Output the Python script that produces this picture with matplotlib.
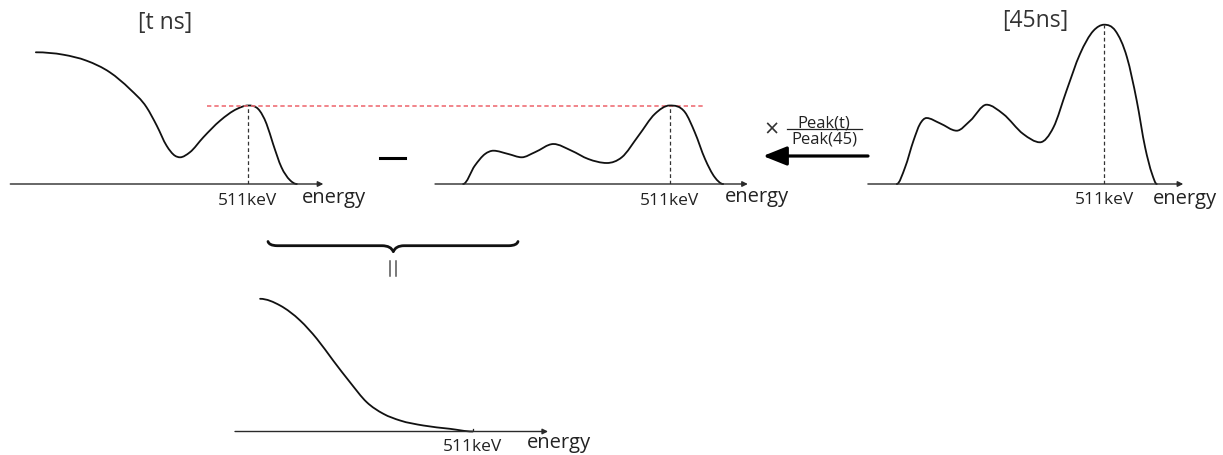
import numpy as np
import matplotlib
matplotlib.use("Agg")
import matplotlib.pyplot as plt
from matplotlib.path import Path
from matplotlib.patches import PathPatch, FancyArrowPatch
from matplotlib.lines import Line2D

plt.rcParams['font.family'] = ['Open Sans', 'DejaVu Sans']

# ---------------- data (energy in keV, counts in arbitrary units) ----------------
peak_energy = 511
# spectrum at t ns
t_energy = [55, 114, 164, 214, 257, 293, 315, 336, 354, 365, 386, 415, 451, 487, 511, 533, 551, 565, 583, 601, 616]
t_counts = [131.7, 129.3, 123.3, 111.7, 95, 76.7, 58.3, 38.3, 28.3, 26.7, 31.7, 46.7, 63.3, 75, 78.5, 75, 60, 40, 16.7, 4, 0]
# 45 ns spectrum scaled by Peak(t)/Peak(45)
s_energy = [67, 92, 114, 132, 164, 193, 221, 261, 300, 336, 376, 408, 444, 479, 511, 544, 565, 587, 608, 626]
s_counts = [0, 18.3, 30, 33.3, 30, 26.7, 31.7, 40, 33.3, 25, 21, 26.7, 48.3, 70, 78.5, 71.7, 51.7, 25, 6.7, 0]
# spectrum at 45 ns
r_energy = [65, 83, 101, 115, 129, 158, 194, 223, 258, 294, 337, 373, 402, 430, 459, 488, 511, 535, 560, 581, 599, 614, 624]
r_counts = [0, 16.7, 43.3, 60, 66, 60.7, 53.3, 63.3, 79.3, 70, 50, 41.7, 56.7, 93.3, 130, 153.3, 159.3, 153.3, 126.7, 83.3, 36.7, 10, 0]
# difference spectrum
d_energy = [54, 97, 140, 176, 211, 247, 283, 319, 355, 405, 462, 511]
d_counts = [132.7, 126, 111, 92.7, 71, 49.4, 29.4, 17.7, 11, 6, 2.7, 0]

peak_label = "511keV"
axis_label = "energy"
title_t = "[t ns]"
title_45 = "[45ns]"
ratio_num = "Peak(t)"
ratio_den = "Peak(45)"

# ---------------- layout ----------------
W, H = 1223, 456
fig = plt.figure(figsize=(W / 100, H / 100), dpi=100)
KEV_PER_PX = 2.15
TEXT = "#222222"


def fpx(x, y):
    return x / W, (H - y) / H


def add_panel(left_px, base_px, height_px, e0, e1):
    width_px = 700 / KEV_PER_PX
    ax = fig.add_axes([left_px / W, (H - base_px) / H, width_px / W, height_px / H])
    ax.set_xlim(0, 700)
    ax.set_ylim(0, height_px)
    ax.axis('off')
    ax.annotate("", xy=(e1, 0), xytext=(e0, 0), xycoords='data',
                arrowprops=dict(arrowstyle='-|>', lw=1.0, color='#2a2a2a',
                                mutation_scale=8, shrinkA=0, shrinkB=0),
                annotation_clip=False)
    return ax


def smooth(ax, xs, ys, **kw):
    """Smooth cubic through the read points (flat at extrema), drawn as Bezier segments."""
    x = np.asarray(xs, float)
    y = np.asarray(ys, float)
    h = np.diff(x)
    d = np.diff(y) / h
    n = len(x)
    m = np.zeros(n)
    for k in range(1, n - 1):
        if d[k - 1] * d[k] > 0:
            mk = (h[k] * d[k - 1] + h[k - 1] * d[k]) / (h[k - 1] + h[k])
            lim = 3 * min(abs(d[k - 1]), abs(d[k]))
            m[k] = np.sign(mk) * min(abs(mk), lim)
    verts = [(x[0], y[0])]
    codes = [Path.MOVETO]
    for k in range(n - 1):
        verts += [(x[k] + h[k] / 3, y[k] + m[k] * h[k] / 3),
                  (x[k + 1] - h[k] / 3, y[k + 1] - m[k + 1] * h[k] / 3),
                  (x[k + 1], y[k + 1])]
        codes += [Path.CURVE4] * 3
    ax.add_patch(PathPatch(Path(verts, codes), fill=False, clip_on=False, **kw))


curve_kw = dict(lw=1.3, edgecolor='#111111', capstyle='round', joinstyle='round')
dash_kw = dict(ls=(0, (3, 2.2)), color='#333333', lw=0.9)
lab_kw = dict(fontsize=12.5, color=TEXT, va='baseline')
en_kw = dict(fontsize=14.5, color=TEXT, va='baseline', ha='left')


def peak_of(e, c):
    return c[list(e).index(peak_energy)]


# panel 1
ax1 = add_panel(10.3, 185, 170, 0, 673)
smooth(ax1, t_energy, t_counts, **curve_kw)
pk1 = peak_of(t_energy, t_counts)
ax1.plot([peak_energy, peak_energy], [0, pk1], **dash_kw)
ax1.plot([422, 1493], [pk1, pk1], ls=(0, (2.6, 1.8)), color='#ef6f77', lw=1.2, clip_on=False)
ax1.text(peak_energy, -20, peak_label, ha='center', **lab_kw)
ax1.text(627, -18, axis_label, **en_kw)

# panel 2
ax2 = add_panel(432, 185, 170, 6.5, 679)
smooth(ax2, s_energy, s_counts, **curve_kw)
ax2.plot([peak_energy, peak_energy], [0, peak_of(s_energy, s_counts)], **dash_kw)
ax2.text(peak_energy, -20, peak_label, ha='center', **lab_kw)
ax2.text(630, -17, axis_label, **en_kw)

# panel 3
ax3 = add_panel(866.5, 185, 170, 3, 681)
smooth(ax3, r_energy, r_counts, **curve_kw)
ax3.plot([peak_energy, peak_energy], [0, peak_of(r_energy, r_counts)], **dash_kw)
ax3.text(peak_energy, -19, peak_label, ha='center', **lab_kw)
ax3.text(616, -19, axis_label, **en_kw)

# panel 4
ax4 = add_panel(235, 432.5, 140, 0, 673)
smooth(ax4, d_energy, d_counts, **curve_kw)
ax4.plot([peak_energy, peak_energy], [-2.5, 2.5], color='#222222', lw=0.9)
ax4.text(peak_energy, -19, peak_label, ha='center', **lab_kw)
ax4.text(628, -15.5, axis_label, **en_kw)

# titles
fig.text(*fpx(165, 23), title_t, ha='center', va='center', fontsize=16.5, color='#333333')
fig.text(*fpx(1035, 21), title_45, ha='center', va='center', fontsize=16.5, color='#333333')

# minus sign
fig.add_artist(Line2D([380 / W, 405 / W], [(H - 159) / H] * 2, color='black', lw=2.2))

# scaling arrow and ratio
fig.add_artist(FancyArrowPatch(fpx(868, 157), fpx(763, 157), transform=fig.transFigure,
                               arrowstyle='-|>,head_length=0.8,head_width=0.32', mutation_scale=18,
                               lw=2.3, color='black', shrinkA=0, shrinkB=0))
fig.text(*fpx(772, 131), "×", ha='center', va='center', fontsize=18, color='#333333')
fig.text(*fpx(824, 127), ratio_num, ha='center', va='baseline', fontsize=12, color=TEXT)
fig.text(*fpx(824, 144), ratio_den, ha='center', va='baseline', fontsize=12, color=TEXT)
fig.add_artist(Line2D([787 / W, 862 / W], [(H - 130) / H] * 2, color='#222222', lw=0.9))

# brace under the subtraction
yb = 246.7
bverts = [fpx(268, 242.5), fpx(269, 246.5), fpx(277, yb), fpx(284, yb),
          fpx(382, yb), fpx(391, yb), fpx(393.3, 252.7)]
bcodes = [Path.MOVETO, Path.CURVE3, Path.CURVE3, Path.LINETO, Path.LINETO, Path.CURVE3, Path.CURVE3]
bverts += [fpx(395.6, yb), fpx(404, yb), fpx(502, yb), fpx(509, yb), fpx(517, 246.5), fpx(518, 242.5)]
bcodes += [Path.CURVE3, Path.CURVE3, Path.LINETO, Path.LINETO, Path.CURVE3, Path.CURVE3]
fig.add_artist(PathPatch(Path(bverts, bcodes), transform=fig.transFigure, fill=False,
                         lw=2.0, edgecolor='#111111', capstyle='round', joinstyle='round'))
# "equals" sign turned upright under the brace
for xe in (389.8, 395.6):
    fig.add_artist(Line2D([xe / W, xe / W], [(H - 262) / H, (H - 277) / H], color='#555555', lw=1.1))

fig.savefig("out.png", dpi=100, facecolor='white')
